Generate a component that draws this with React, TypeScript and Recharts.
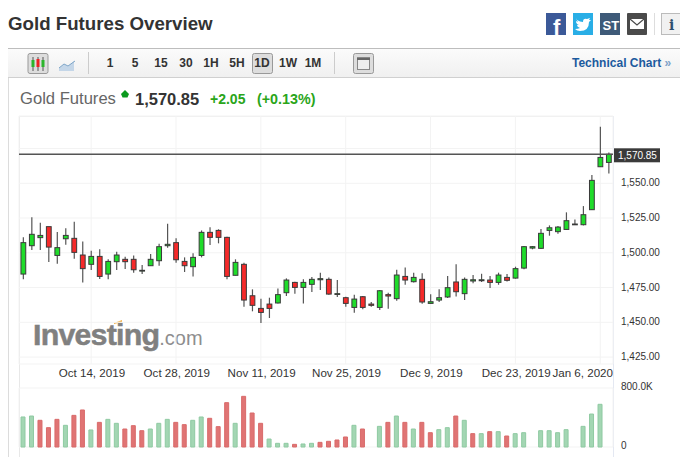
import React from "react";
import { ComposedChart, Bar, XAxis, YAxis, CartesianGrid, ReferenceLine, Cell } from "recharts";

const dates = [
  "Oct 2, 2019","Oct 3, 2019","Oct 4, 2019","Oct 7, 2019","Oct 8, 2019","Oct 9, 2019","Oct 10, 2019","Oct 11, 2019",
  "Oct 14, 2019","Oct 15, 2019","Oct 16, 2019","Oct 17, 2019","Oct 18, 2019","Oct 21, 2019","Oct 22, 2019","Oct 23, 2019","Oct 24, 2019","Oct 25, 2019",
  "Oct 28, 2019","Oct 29, 2019","Oct 30, 2019","Oct 31, 2019","Nov 1, 2019","Nov 4, 2019","Nov 5, 2019","Nov 6, 2019","Nov 7, 2019","Nov 8, 2019",
  "Nov 11, 2019","Nov 12, 2019","Nov 13, 2019","Nov 14, 2019","Nov 15, 2019","Nov 18, 2019","Nov 19, 2019","Nov 20, 2019","Nov 21, 2019","Nov 22, 2019",
  "Nov 25, 2019","Nov 26, 2019","Nov 27, 2019","Nov 28, 2019","Nov 29, 2019","Dec 2, 2019","Dec 3, 2019","Dec 4, 2019","Dec 5, 2019","Dec 6, 2019",
  "Dec 9, 2019","Dec 10, 2019","Dec 11, 2019","Dec 12, 2019","Dec 13, 2019","Dec 16, 2019","Dec 17, 2019","Dec 18, 2019","Dec 19, 2019","Dec 20, 2019",
  "Dec 23, 2019","Dec 24, 2019","Dec 25, 2019","Dec 26, 2019","Dec 27, 2019","Dec 30, 2019","Dec 31, 2019","Jan 1, 2020","Jan 2, 2020","Jan 3, 2020",
  "Jan 6, 2020","Jan 7, 2020",
];
const dateTicks = ["Oct 14, 2019","Oct 28, 2019","Nov 11, 2019","Nov 25, 2019","Dec 9, 2019","Dec 23, 2019","Jan 6, 2020"];
const opens = [
  1484.7,1505.1,1510.9,1518.8,1498.1,1510.1,1510.4,1498.4,1491.7,1497.4,
  1484.7,1493.6,1495.3,1495.3,1486.9,1490.7,1494.3,1505.1,1507.3,1493.8,
  1490.0,1498.1,1514.7,1516.1,1511.1,1483.8,1491.7,1469.1,1460.0,1463.1,
  1463.9,1471.3,1478.7,1475.1,1477.3,1480.6,1480.9,1470.1,1467.7,1460.7,
  1468.4,1463.1,1460.7,1469.9,1467.0,1483.0,1479.2,1480.9,1463.6,1466.0,
  1468.2,1479.0,1470.6,1479.7,1479.9,1480.4,1478.7,1482.3,1481.8,1489.0,
  1503.4,1503.2,1516.1,1515.2,1516.8,1520.2,1520.2,1531.0,1561.9,1565.0,
];
const closes = [
  1507.3,1513.3,1512.5,1504.1,1503.7,1512.5,1500.3,1488.6,1497.4,1483.0,
  1493.8,1498.4,1493.6,1487.8,1487.4,1495.3,1504.4,1506.1,1495.0,1490.7,
  1496.7,1514.7,1511.1,1511.1,1483.0,1493.1,1466.0,1462.2,1457.1,1460.0,
  1469.9,1480.4,1475.1,1478.7,1480.9,1481.4,1470.3,1470.6,1463.6,1466.7,
  1460.7,1462.2,1472.7,1468.9,1484.0,1480.4,1482.3,1464.6,1464.8,1467.7,
  1474.9,1472.0,1480.9,1480.6,1480.6,1478.7,1484.0,1480.2,1488.6,1504.4,
  1504.4,1514.0,1518.0,1518.5,1523.1,1520.7,1527.4,1552.1,1568.6,1570.85,
];
const highs = [
  1511.1,1525.5,1521.6,1518.8,1514.9,1517.6,1522.4,1508.2,1501.5,1502.5,
  1495.3,1500.8,1497.2,1498.1,1491.2,1499.1,1506.5,1520.9,1510.4,1496.7,
  1499.6,1516.1,1518.3,1516.9,1511.6,1495.3,1492.9,1473.7,1467.0,1467.7,
  1474.4,1481.6,1479.2,1480.9,1482.6,1485.7,1482.3,1480.4,1468.4,1469.9,
  1468.9,1464.6,1473.2,1471.3,1487.8,1489.5,1485.7,1485.2,1470.1,1473.7,
  1483.3,1491.7,1482.3,1484.0,1484.9,1483.3,1485.7,1484.7,1490.0,1504.9,
  1504.9,1517.1,1519.7,1519.2,1529.1,1524.0,1533.6,1555.9,1590.7,1572.2,
];
const lows = [
  1480.9,1502.0,1502.0,1493.3,1492.1,1505.8,1495.7,1478.7,1487.6,1481.1,
  1480.9,1487.6,1488.3,1485.7,1484.7,1490.7,1490.7,1503.7,1492.9,1486.2,
  1483.0,1496.7,1505.6,1506.8,1480.9,1483.8,1461.2,1457.9,1449.5,1453.1,
  1463.6,1468.9,1470.6,1463.6,1471.8,1473.2,1469.9,1468.2,1461.2,1456.9,
  1459.3,1461.2,1458.8,1459.8,1465.5,1477.0,1478.7,1463.4,1463.4,1464.6,
  1467.4,1468.6,1466.0,1478.0,1479.0,1474.6,1477.0,1479.4,1481.4,1488.1,
  1502.5,1502.7,1512.3,1513.7,1516.4,1520.0,1519.7,1530.8,1561.7,1557.1,
];
const volumesK = [
  407,420,362,262,375,294,429,502,231,334,
  375,321,244,289,221,244,321,375,334,303,
  362,407,389,276,601,321,687,461,321,108,
  50,50,36,41,50,63,77,95,136,294,
  244,0,280,334,420,334,244,334,194,235,
  262,420,362,181,181,208,208,149,181,194,
  0,221,221,194,235,0,280,447,579,0,
];
const volumeUp = [
  1,1,0,0,0,1,0,0,1,0,
  1,1,0,0,0,1,1,1,0,0,
  1,1,0,0,0,1,0,0,0,1,
  1,1,0,1,1,0,0,0,0,1,
  0,1,1,0,1,0,1,0,0,1,
  1,0,1,0,1,0,1,0,1,1,
  1,1,1,1,1,1,1,1,1,1,
];
const priceTicks = [1425, 1450, 1475, 1500, 1525, 1550, 1570.85, 1575];
const volumeTicks = [0, 800];
const lastPrice = 1570.85;

const candleRows = dates.map((date, i) => ({
  date, open: opens[i], close: closes[i], high: highs[i], low: lows[i], range: [lows[i], highs[i]],
}));
const volumeRows = dates.map((date, i) => ({ date, volume: volumesK[i], up: volumeUp[i] === 1 }));

const FONT = "'Liberation Sans', Arial, sans-serif";
const GRID = "#f3f3f3";

function Candle(props: any) {
  const { x, y, width, height, payload } = props;
  const { open, close, high, low } = payload;
  const perUnit = high === low ? 0 : height / (high - low);
  const top = y + (high - Math.max(open, close)) * perUnit;
  const bottom = y + (high - Math.min(open, close)) * perUnit;
  const cx = x + width / 2;
  const up = close >= open;
  return (
    <g>
      <line x1={cx} x2={cx} y1={y} y2={y + height} stroke="#555" strokeWidth={1.2} />
      <rect x={cx - 2.4} y={top} width={4.8} height={Math.max(bottom - top, 0.8)}
        fill={up ? "#1fdc2a" : "#f52a2a"} stroke="#3a3a3a" strokeWidth={1} />
    </g>
  );
}

function PriceTick(props: any) {
  const { x, y, payload } = props;
  if (payload.value === 1575) return null;
  if (payload.value === lastPrice) {
    return (
      <g>
        <rect x={x - 7} y={y - 6} width={46} height={14} fill="#3a3a3a" />
        <text x={x - 3} y={y + 4.5} fontSize={10} fill="#fff" fontFamily={FONT}>1,570.85</text>
      </g>
    );
  }
  const label = payload.value.toLocaleString("en-US", { minimumFractionDigits: 2 });
  return <text x={x} y={y + 3} fontSize={10} fill="#333" fontFamily={FONT}>{label}</text>;
}

function DateTick(props: any) {
  const { x, y, payload } = props;
  const last = payload.value.startsWith("Jan");
  return (
    <text x={last ? 613 : x + 0.8} y={y + 5} textAnchor={last ? "end" : "middle"} fontSize={11.6} fill="#333" fontFamily={FONT}>
      {payload.value}
    </text>
  );
}

function VolumeTick(props: any) {
  const { x, y, payload } = props;
  return (
    <text x={x} y={y + 2} fontSize={10} fill="#333" fontFamily={FONT}>
      {payload.value === 0 ? "0" : "800.0K"}
    </text>
  );
}

const box = (s: React.CSSProperties): React.CSSProperties => ({ position: "absolute", whiteSpace: "nowrap", ...s });
const periods: [string, number][] = [["1", 110], ["5", 135], ["15", 161], ["30", 186], ["1H", 211], ["5H", 237], ["1D", 262], ["1W", 288], ["1M", 313]];

export default function App() {
  return (
    <div style={box({ left: 0, top: 0, width: 680, height: 457, overflow: "hidden", background: "#fff", fontFamily: FONT })}>
      <div style={box({ left: 8, top: 13, fontSize: 18.7, fontWeight: 700, color: "#333", lineHeight: "22px" })}>Gold Futures Overview</div>

      <svg style={box({ left: 540, top: 8 })} width={140} height={32}>
        <rect x={6} y={5} width={20} height={22} fill="#3b5998" />
        <text x={13} y={27} fontSize={22} fontWeight={700} fill="#fff" fontFamily={FONT}>f</text>
        <rect x={33} y={5} width={20} height={22} fill="#29aee6" />
        <path d="M37 12 q3 2 6 2 q0-4 4-3 l3-1 -1 2 2 0 -2 2 q0 9-9 9 q-3 0-5-2 q3 0 5-1 q-3-1-3-3 l2 0 q-3-1-3-4 l2 1 q-2-2-1-4z" fill="#fff" />
        <rect x={60} y={5} width={20} height={22} fill="#3e5a78" />
        <text x={62.5} y={22} fontSize={13} fontWeight={700} fill="#fff" fontFamily={FONT}>ST</text>
        <rect x={87} y={5} width={20} height={22} fill="#4a4a4a" rx={1} />
        <rect x={90} y={11} width={14} height={10} fill="#fff" />
        <path d="M90 11 l7 6 l7-6" fill="none" stroke="#4a4a4a" strokeWidth={1.2} />
        <line x1={114.5} x2={114.5} y1={5} y2={27} stroke="#ddd" />
        <rect x={121.5} y={5.5} width={20} height={21} fill="#f1f1f1" stroke="#bbb" />
        <text x={129} y={22} fontSize={14} fontWeight={700} fill="#2f4f6f" fontFamily="'DejaVu Serif', serif">i</text>
      </svg>

      <div style={box({ left: 8, top: 48, width: 672, height: 30, boxSizing: "border-box", borderTop: "1px solid #bdbdbd", borderBottom: "1px solid #d0d0d0", background: "linear-gradient(#fbfbfb,#f0f0f0)" })} />
      <svg style={box({ left: 8, top: 48 })} width={380} height={30}>
        <rect x={20} y={5.5} width={20} height={20} rx={2} fill="#ddd" stroke="#999" />
        <line x1={25} x2={25} y1={9} y2={23} stroke="#555" /><rect x={23.5} y={12} width={3} height={7} fill="#2bb52b" />
        <line x1={30} x2={30} y1={9} y2={23} stroke="#555" /><rect x={28.5} y={11} width={3} height={8} fill="#e22" />
        <line x1={35} x2={35} y1={9} y2={23} stroke="#555" /><rect x={33.5} y={12} width={3} height={7} fill="#2bb52b" />
        <path d="M51 20 l5-4 4 2 6-5 v10 h-15z" fill="#c4d6e8" />
        <path d="M51 20 l5-4 4 2 7-5" fill="none" stroke="#7fa6c8" />
        <line x1={80.5} x2={80.5} y1={4} y2={26} stroke="#ccc" />
        <rect x={244.5} y={5.5} width={20} height={20} rx={2} fill="#ddd" stroke="#999" />
        <line x1={326.5} x2={326.5} y1={4} y2={26} stroke="#ccc" />
        <rect x={345.5} y={5.5} width={20} height={20} rx={2} fill="#ddd" stroke="#999" />
        <rect x={349.5} y={9.5} width={12} height={12} fill="#eee" stroke="#888" />
        <line x1={349} x2={362} y1={11} y2={11} stroke="#666" strokeWidth={2} />
      </svg>
      {periods.map(([label, cx]) => (
        <div key={label} style={box({ left: cx - 15, width: 30, top: 56, textAlign: "center", fontSize: 12, fontWeight: 700, color: "#333", lineHeight: "14px" })}>{label}</div>
      ))}
      <div style={box({ left: 572, top: 56, fontSize: 12, fontWeight: 700, color: "#1c5a9e", lineHeight: "14px" })}>Technical Chart <span style={{ color: "#7fa2c8" }}>»</span></div>

      <div style={box({ left: 20, top: 89, fontSize: 16.6, color: "#666", lineHeight: "19px" })}>Gold Futures</div>
      <svg style={box({ left: 120, top: 89 })} width={10} height={10}><path d="M5 1 l4 4 -1.5 3.5 h-5 L1 5z" fill="#0a9a1e" /></svg>
      <div style={box({ left: 135, top: 90, fontSize: 16.5, fontWeight: 700, color: "#333", lineHeight: "19px" })}>1,570.85</div>
      <div style={box({ left: 210, top: 90, fontSize: 14, fontWeight: 700, color: "#2aa51a", lineHeight: "18px" })}>+2.05</div>
      <div style={box({ left: 257, top: 90, fontSize: 14.3, fontWeight: 700, color: "#2aa51a", lineHeight: "18px" })}>(+0.13%)</div>

      <div style={box({ left: 8, top: 78, width: 1, height: 379, background: "#dcdcdc" })} />
      <div style={box({ left: 19, top: 116, width: 1, height: 341, background: "#e8e8e8" })} />
      <div style={box({ left: 19, top: 116, width: 594, height: 1, background: "#eeeeee" })} />
      <div style={box({ left: 613, top: 116, width: 1, height: 341, background: "#e4e8f2" })} />

      <div style={box({ left: 33, top: 316, fontSize: 30.4, fontWeight: 700, color: "#808080", lineHeight: "36px", letterSpacing: -0.8, WebkitTextStroke: "0.5px #808080" })}>
        Investing<span style={{ fontWeight: 400, fontSize: 20, color: "#8e8e8e", letterSpacing: 0, WebkitTextStroke: "0" }}>.com</span>
      </div>
      <svg style={box({ left: 112, top: 318 })} width={14} height={8}><path d="M2 5 L10 2 L10 4 L2 6z" fill="#f3b24a" /></svg>

      <div style={box({ left: 0, top: 0 })}>
        <ComposedChart width={680} height={385} data={candleRows} barCategoryGap="10%"
          margin={{ top: 116, left: 19, right: 0, bottom: 0 }}>
          <CartesianGrid stroke={GRID} strokeWidth={1} />
          <XAxis dataKey="date" ticks={dateTicks} interval={0} height={21} axisLine={false} tickLine={false} tick={<DateTick />} />
          <YAxis orientation="right" width={67} domain={[1420, 1598.4]} ticks={priceTicks} interval={0} allowDataOverflow
            axisLine={false} tickLine={false} tick={<PriceTick />} />
          <ReferenceLine y={lastPrice} stroke="#555" strokeWidth={1.5} />
          <Bar dataKey="range" isAnimationActive={false} shape={<Candle />} />
        </ComposedChart>
      </div>

      <div style={box({ left: 0, top: 375 })}>
        <ComposedChart width={680} height={82} data={volumeRows} barSize={4}
          margin={{ top: 13, left: 19, right: 0, bottom: 10 }}>
          <CartesianGrid stroke={GRID} strokeWidth={1} />
          <XAxis dataKey="date" ticks={dateTicks} interval={0} height={0} axisLine={false} tickLine={false} tick={false} />
          <YAxis orientation="right" width={67} domain={[0, 800]} ticks={volumeTicks} interval={0}
            axisLine={false} tickLine={false} tick={<VolumeTick />} />
          <Bar dataKey="volume" isAnimationActive={false} strokeWidth={1}>
            {volumeRows.map((r) => (
              <Cell key={r.date} fill={r.up ? "#a3d6b3" : "#e07474"} stroke={r.up ? "#8fcaa2" : "#d96a6a"} />
            ))}
          </Bar>
        </ComposedChart>
      </div>
    </div>
  );
}
